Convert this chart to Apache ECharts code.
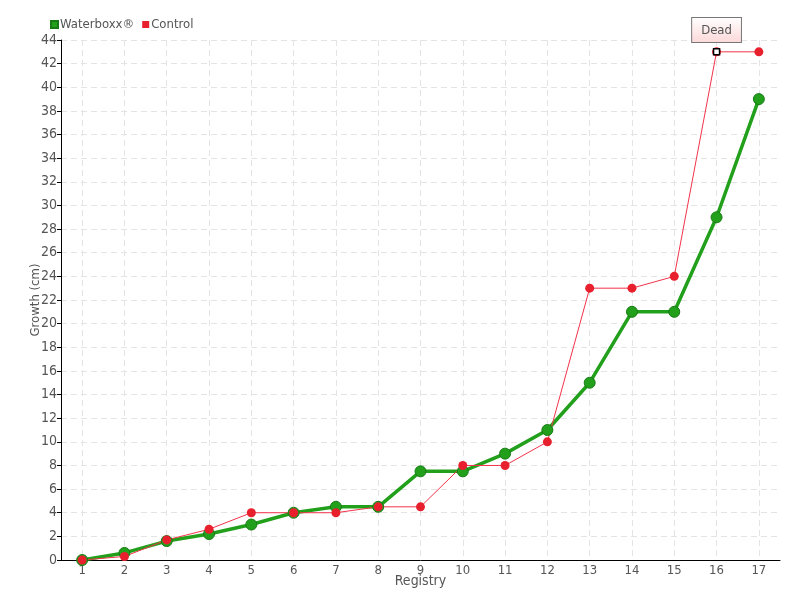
<!DOCTYPE html>
<html><head><meta charset="utf-8">
<script src="https://cdn.jsdelivr.net/npm/echarts@6/dist/echarts.min.js"></script>
<style>html,body{margin:0;padding:0;background:#fff}#c{width:800px;height:600px}</style>
</head><body><div id="c"></div>
<script>
const categories = ['1','2','3','4','5','6','7','8','9','10','11','12','13','14','15','16','17'];
const waterboxx = [0, 0.6, 1.6, 2.2, 3, 4, 4.5, 4.5, 7.5, 7.5, 9, 11, 15, 21, 21, 29, 39];
const control = [0, 0.3, 1.7, 2.6, 4, 4, 4, 4.5, 4.5, 8, 8, 10, 23, 23, 24, 43, 43];
const deadIndex = 15;
const deadLabel = 'Dead';

const FONT = '"DejaVu Sans Condensed", "DejaVu Sans", sans-serif';
const chart = echarts.init(document.getElementById('c'));
chart.setOption({
  animation: false,
  textStyle: { fontFamily: FONT },
  legend: {
    left: 45, top: 13, itemWidth: 7, itemHeight: 7, itemGap: 8,
    icon: 'rect',
    textStyle: { fontFamily: FONT, fontSize: 13, color: '#555', padding: [0, 0, 0, -3] },
    data: ['Waterboxx®', 'Control']
  },
  grid: { left: 61, right: 20, top: 40, bottom: 40, outerBoundsMode: 'none' },
  xAxis: {
    type: 'category', data: categories, boundaryGap: true,
    name: 'Registry', nameLocation: 'middle', nameGap: 14, nameMoveOverlap: false,
    nameTextStyle: { fontFamily: FONT, fontSize: 14, color: '#555' },
    axisLine: { lineStyle: { color: '#000', width: 1 } },
    axisTick: { alignWithLabel: true, length: 4, lineStyle: { color: '#000' } },
    axisLabel: { fontFamily: FONT, fontSize: 13, color: '#555', margin: 4 },
    splitLine: { show: true, alignWithLabel: true, lineStyle: { color: '#e4e4e4', type: [6, 4] } }
  },
  yAxis: {
    type: 'value', min: 0, max: 44, interval: 2,
    name: 'Growth (cm)', nameLocation: 'middle', nameGap: 19, nameMoveOverlap: false,
    nameTextStyle: { fontFamily: FONT, fontSize: 13, color: '#555' },
    axisLine: { show: true, lineStyle: { color: '#000', width: 1 } },
    axisTick: { show: true, length: 4, lineStyle: { color: '#000' } },
    axisLabel: { fontFamily: FONT, fontSize: 14, color: '#555', margin: 4 },
    splitLine: { show: true, lineStyle: { color: '#e4e4e4', type: [6, 4] } }
  },
  series: [
    {
      name: 'Waterboxx®', type: 'line', data: waterboxx,
      symbol: 'circle', symbolSize: 11,
      lineStyle: { color: '#22a01c', width: 3.5 },
      itemStyle: { color: '#22a01c', borderColor: '#177a14', borderWidth: 1 }
    },
    {
      name: 'Control', type: 'line', data: control,
      symbol: 'circle', symbolSize: 9,
      lineStyle: { color: '#f2334a', width: 1 },
      itemStyle: { color: '#e8202e' },
      markPoint: {
        silent: true,
        data: [{
          coord: [deadIndex, control[deadIndex]],
          symbol: 'rect', symbolSize: 6,
          itemStyle: { color: '#fff', borderColor: '#000', borderWidth: 1.5 },
          label: {
            show: true, position: 'top', distance: 6, formatter: deadLabel,
            fontFamily: FONT, fontSize: 13, color: '#555',
            padding: [6, 9, 5, 9],
            borderColor: '#777', borderWidth: 1,
            backgroundColor: new echarts.graphic.LinearGradient(0, 0, 0, 1, [
              { offset: 0, color: '#ffffff' }, { offset: 1, color: '#fcd8d8' }
            ])
          }
        }]
      }
    }
  ]
});
</script></body></html>
